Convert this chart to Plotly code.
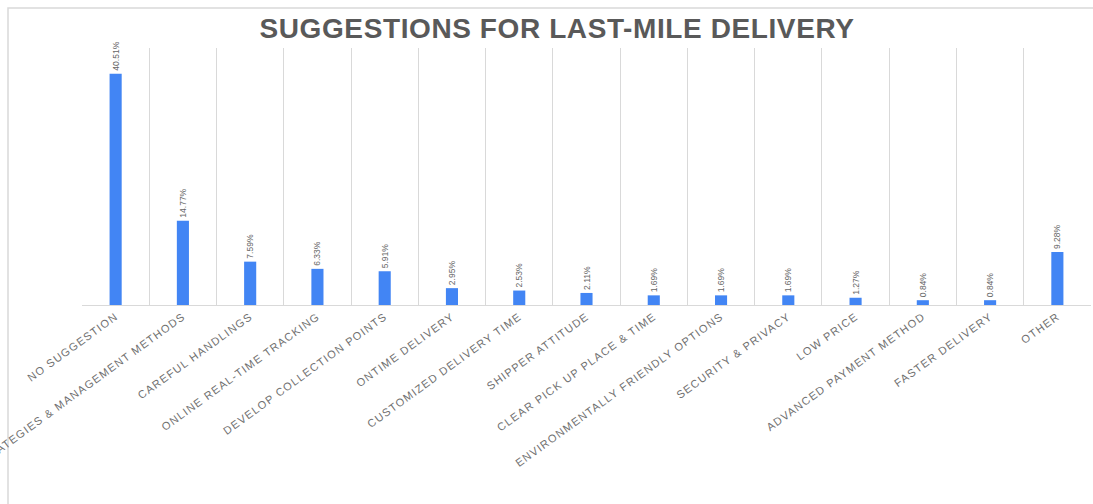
import plotly.graph_objects as go

categories = [
    "NO SUGGESTION",
    "STRATEGIES & MANAGEMENT METHODS",
    "CAREFUL HANDLINGS",
    "ONLINE REAL-TIME TRACKING",
    "DEVELOP COLLECTION POINTS",
    "ONTIME DELIVERY",
    "CUSTOMIZED DELIVERY TIME",
    "SHIPPER ATTITUDE",
    "CLEAR PICK UP PLACE & TIME",
    "ENVIRONMENTALLY FRIENDLY OPTIONS",
    "SECURITY & PRIVACY",
    "LOW PRICE",
    "ADVANCED PAYMENT METHOD",
    "FASTER DELIVERY",
    "OTHER",
]
values = [40.51, 14.77, 7.59, 6.33, 5.91, 2.95, 2.53, 2.11, 1.69, 1.69, 1.69, 1.27, 0.84, 0.84, 9.28]
labels = [f"{v:.2f}%" for v in values]

W, H = 1093, 504
L, R, T, B = 82, 2, 48, 199
pw = W - L - R
ph = H - T - B

fig = go.Figure()
fig.add_trace(go.Bar(
    x=categories,
    y=values,
    text=labels,
    textposition="outside",
    textangle=-90,
    constraintext="none",
    cliponaxis=False,
    textfont=dict(family="Liberation Sans Narrow, Liberation Sans, Arial", size=8.5, color="#666666"),
    marker=dict(color="#4285F4", line=dict(width=0)),
    width=0.18,
    hoverinfo="skip",
))

fig.update_layout(
    width=W,
    height=H,
    margin=dict(l=L, r=R, t=T, b=B, autoexpand=False),
    paper_bgcolor="white",
    plot_bgcolor="white",
    showlegend=False,
    title=dict(
        text="<b>SUGGESTIONS FOR LAST-MILE DELIVERY</b>",
        x=557 / W,
        xanchor="center",
        y=1 - 28 / H,
        yanchor="middle",
        font=dict(family="Liberation Sans, Arial", size=28, color="#595959"),
    ),
    xaxis=dict(
        type="category",
        tickson="boundaries",
        showgrid=True,
        gridcolor="#d9d9d9",
        gridwidth=1,
        showline=True,
        linecolor="#d9d9d9",
        ticks="",
        tickangle=-36,
        tickfont=dict(family="Liberation Sans, Arial", size=11, color="#707070"),
        automargin=False,
        range=[-0.5, 14.5],
        zeroline=False,
    ),
    yaxis=dict(
        range=[0, 45],
        showgrid=False,
        showticklabels=False,
        showline=False,
        zeroline=False,
        ticks="",
        automargin=False,
    ),
    shapes=[
        dict(
            type="rect",
            xref="paper", yref="paper",
            x0=(8 - L) / pw, x1=1 + 20 / pw,
            y0=-(H) / ph, y1=1 + (T - 8) / ph,
            line=dict(color="#d9d9d9", width=1.5),
            fillcolor="rgba(0,0,0,0)",
            layer="below",
        )
    ],
)

post_script = """
var gd = document.getElementById('{plot_id}');
function spacing() {
  gd.querySelectorAll('.xtick text').forEach(function (t) { t.style.letterSpacing = '1.2px'; });
  var tt = gd.querySelector('.gtitle');
  if (tt) { tt.style.letterSpacing = '0.6px'; }
}
spacing();
gd.on('plotly_afterplot', spacing);
"""

fig.write_html("out.html", post_script=post_script)
